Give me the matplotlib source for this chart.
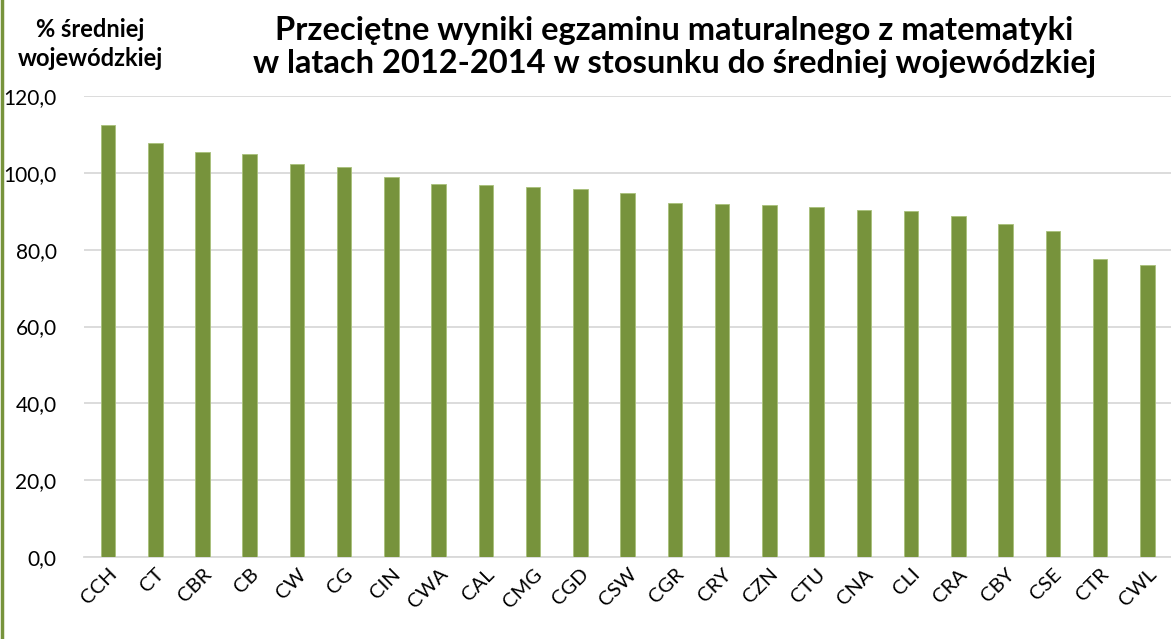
import matplotlib
matplotlib.use("Agg")
import matplotlib.pyplot as plt
from matplotlib.ticker import FuncFormatter
import numpy as np

plt.rcParams['font.family'] = ['Lato', 'DejaVu Sans']

schools = ['CCH', 'CT', 'CBR', 'CB', 'CW', 'CG', 'CIN', 'CWA', 'CAL', 'CMG', 'CGD', 'CSW',
           'CGR', 'CRY', 'CZN', 'CTU', 'CNA', 'CLI', 'CRA', 'CBY', 'CSE', 'CTR', 'CWL']
pct_of_avg = [112.3, 107.8, 105.5, 104.8, 102.2, 101.6, 98.9, 97.2, 96.7, 96.3, 95.8, 94.7,
              92.2, 91.9, 91.6, 91.2, 90.3, 90.0, 88.8, 86.7, 84.9, 77.6, 76.1]
y_ticks = [0, 20, 40, 60, 80, 100, 120]

green = '#77933c'

fig = plt.figure(figsize=(11.71, 6.39), dpi=100)
ax = fig.add_axes([0.072, 0.128, 0.928, 0.722])

x = np.arange(len(schools))
ax.bar(x, pct_of_avg, width=0.31, color=green, edgecolor='#a9c07a', linewidth=0.6, zorder=3)

ax.set_xlim(-0.5, len(schools) - 0.5)
ax.set_ylim(0, 120)
ax.set_yticks(y_ticks)
ax.yaxis.set_major_formatter(FuncFormatter(lambda v, p: f'{v:.1f}'.replace('.', ',')))
ax.yaxis.grid(True, color='#d9d9d9', linewidth=1.3, zorder=0)
ax.set_axisbelow(True)
for side in ['top', 'right', 'left']:
    ax.spines[side].set_visible(False)
ax.spines['bottom'].set_color('#d9d9d9')
ax.spines['bottom'].set_linewidth(1.3)
ax.tick_params(axis='y', length=0, labelsize=15, pad=20)
ax.tick_params(axis='x', length=0, labelsize=14.5, pad=6)
ax.set_xticks(x)
ax.set_xticklabels(schools, rotation=45, ha='right', rotation_mode='anchor')

fig.text(0.077, 0.972, '% średniej\nwojewódzkiej', ha='center', va='top',
         fontsize=17, fontweight='bold', linespacing=1.3)
fig.text(0.576, 0.975, 'Przeciętne wyniki egzaminu maturalnego z matematyki\n'
         'w latach 2012-2014 w stosunku do średniej wojewódzkiej',
         ha='center', va='top', fontsize=23.5, fontweight='bold', linespacing=1.15)

# green edge along the left side of the figure
fig.add_artist(plt.Line2D([0.0013, 0.0013], [0, 1], color=green, linewidth=2.5,
                          transform=fig.transFigure))

fig.savefig('out.png', dpi=100)
